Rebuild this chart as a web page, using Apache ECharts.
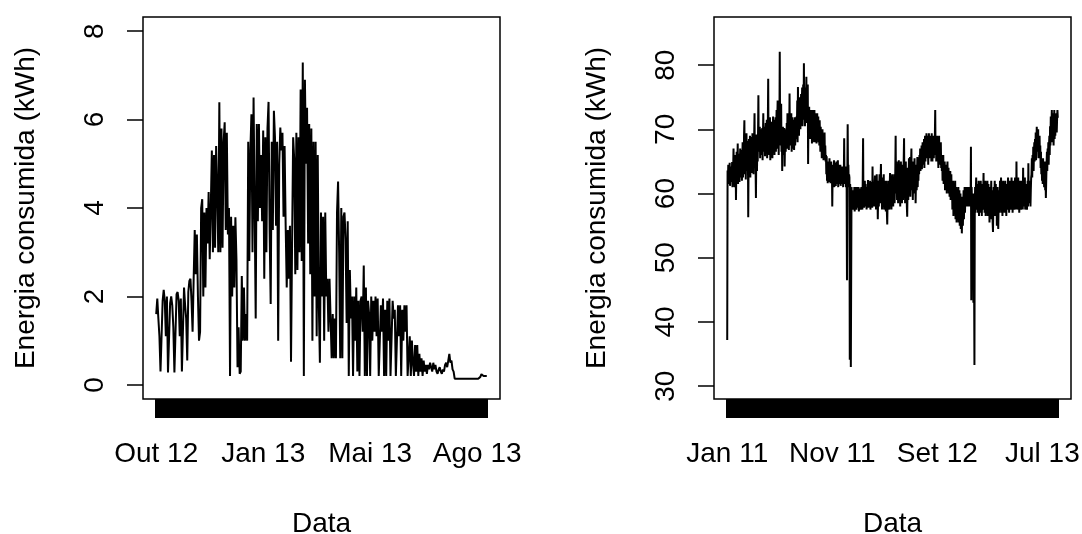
<!DOCTYPE html>
<html><head><meta charset="utf-8">
<script src="https://cdn.jsdelivr.net/npm/echarts@6/dist/echarts.min.js"></script>
<style>html,body{margin:0;padding:0;background:#fff}#c{width:1082px;height:534px}</style>
</head><body><div id="c"></div>
<script>
// ---------- data: left panel (daily, Out 12 .. Ago 13) ----------
const leftValues = [
1.6,1.95,1.5,1.1,0.3,0.28,1.9,
2.15,1.9,1.1,2.0,0.28,0.28,1.85,
2.0,1.8,1.3,0.28,0.28,2.05,2.1,
1.9,1.1,1.95,0.3,0.28,2.2,1.8,
1.5,0.55,2.1,2.35,2.4,1.9,1.2,
2.4,3.5,2.5,3.4,2.0,1.0,1.2,
4.0,4.2,2.0,3.9,2.2,4.0,3.2,
4.36,2.84,4.0,5.3,3.0,5.2,3.1,
5.4,4.4,3.0,6.39,3.0,5.8,3.1,
5.5,5.94,3.5,5.7,3.4,4.0,0.2,
3.8,2.0,3.6,2.2,3.79,2.84,0.4,1.3,0.25,0.3,2.46,1.0,2.2,1.0,1.6,1.0,
5.5,2.8,5.3,6.12,3.0,6.5,4.0,
1.5,5.9,3.7,5.9,4.0,5.2,3.7,
5.75,2.4,5.6,3.0,5.8,6.4,3.5,
1.83,5.5,3.5,6.2,5.6,3.6,5.5,
1.0,5.0,5.82,5.3,5.7,3.8,5.4,
3.6,2.2,3.5,2.4,3.6,0.52,3.2,
5.6,5.1,2.5,5.7,2.6,5.6,3.0,
6.68,2.8,7.29,0.2,6.9,5.0,6.27,
3.2,5.9,2.5,5.8,1.0,5.5,2.0,
5.5,1.1,5.2,1.8,0.5,3.9,2.0,
3.8,1.0,3.9,2.0,2.4,1.2,2.4,
1.5,0.6,1.6,0.6,1.5,0.6,3.9,
4.6,3.0,0.6,4.0,0.6,3.8,3.9,
3.3,1.4,3.7,0.2,2.6,1.5,2.0,
0.2,2.0,1.0,2.2,0.3,1.9,0.2,
1.9,2.0,1.2,2.7,0.2,2.2,0.2,
1.9,1.6,0.2,2.0,1.0,1.9,1.2,
2.0,1.1,1.95,0.2,0.2,1.8,1.2,
1.95,0.2,1.7,0.2,1.9,1.0,1.95,
0.2,0.2,1.9,1.5,1.7,0.2,0.2,
1.8,1.1,1.8,0.2,1.7,1.0,1.8,
1.2,1.8,0.2,0.2,1.1,0.2,1.0,
0.5,0.2,0.9,0.3,0.9,0.2,0.7,
0.3,0.6,0.2,0.55,0.3,0.45,0.25,
0.45,0.35,0.5,0.4,0.3,0.5,0.35,
0.45,0.3,0.25,0.35,0.4,0.3,0.25,
0.35,0.3,0.45,0.5,0.4,0.55,0.7,
0.5,0.55,0.35,0.3,0.14,0.14,0.14,
0.14,0.14,0.14,0.14,0.14,0.14,0.14,0.14,0.14,0.14,0.14,0.14,0.14,0.14,
0.14,0.14,0.14,0.14,0.14,0.14,0.14,0.18,0.24,0.22,0.2,0.19,0.2,0.2
];
const leftTickIdx = [0, 100, 200, 300];
const leftTickLabels = ['Out 12', 'Jan 13', 'Mai 13', 'Ago 13'];
const leftYTicks = [0, 2, 4, 6, 8];

// ---------- data: right panel (daily, Jan 11 .. Jul 13) ----------
const rightValues = [
37.2,63.6,62.0,64.5,61.5,63.8,62.2,64.8,61.2,63.0,64.2,61.8,63.5,62.5,64.9,61.0,63.2,64.0,67.0,62.3,
64.5,61.0,66.0,62.8,65.2,59.0,63.5,66.5,62.0,64.8,67.8,61.5,65.0,63.0,66.2,61.8,64.0,67.0,62.5,65.5,
63.2,66.8,62.0,65.0,68.0,62.5,66.0,64.0,69.0,71.4,63.0,66.5,68.5,62.2,65.8,69.4,63.5,67.0,64.0,68.2,
56.3,65.0,68.5,63.0,67.2,69.0,62.5,66.5,68.8,64.0,67.5,63.2,69.4,65.5,68.0,63.0,66.8,69.0,72.5,64.5,
67.8,64.0,59.3,66.0,69.2,63.5,68.0,65.0,69.4,75.3,66.5,69.0,67.0,70.4,65.5,68.5,70.0,66.0,69.5,67.2,
70.2,65.2,68.8,72.5,66.5,69.8,67.5,70.4,65.8,69.0,71.0,66.2,69.5,71.5,65.5,68.5,70.8,77.9,67.0,70.5,
66.0,69.0,71.9,65.2,68.0,70.5,66.8,71.2,68.5,65.5,70.0,72.0,67.0,69.5,71.5,66.0,70.8,68.2,71.9,66.5,
70.0,73.0,67.0,71.5,74.5,68.0,72.0,66.0,73.5,69.5,82.1,70.0,72.5,67.5,74.0,66.5,70.0,63.5,68.5,70.4,
66.0,69.5,67.5,70.2,64.2,68.0,70.0,66.5,69.8,67.0,71.0,68.0,72.5,67.0,70.5,72.0,66.8,69.5,75.6,68.0,
71.5,67.5,70.0,72.5,66.5,69.8,71.9,67.0,70.5,68.0,71.5,66.8,70.0,71.9,67.5,69.0,71.0,68.5,72.0,70.0,
74.5,68.0,76.6,70.5,73.5,69.0,74.0,71.0,75.0,70.0,73.0,75.5,71.0,74.0,76.5,70.5,73.5,77.0,71.5,80.3,
72.0,75.0,70.5,76.5,72.5,74.0,78.2,71.0,75.5,73.0,77.0,64.6,72.0,70.0,73.5,69.0,72.0,68.5,71.5,73.0,
69.0,72.5,67.8,71.0,73.0,68.5,70.5,72.0,68.0,73.0,69.5,71.5,68.0,72.5,70.0,67.8,71.0,72.5,68.5,70.0,
72.0,68.0,70.5,67.5,71.4,69.0,66.5,70.4,67.0,69.5,65.5,68.5,70.0,66.0,69.0,65.2,68.0,66.5,69.5,65.5,
67.5,65.0,66.0,63.0,65.8,62.0,64.5,61.6,65.0,62.5,64.0,61.8,65.5,62.0,64.2,61.6,63.5,65.0,62.0,64.0,
58.0,63.0,61.5,64.5,62.0,65.2,61.0,63.8,62.5,64.8,61.2,63.0,65.0,61.5,64.0,62.2,65.2,61.0,63.5,64.5,
61.5,63.8,62.0,64.5,61.2,63.0,64.2,61.5,63.5,62.0,64.2,61.0,63.5,62.5,68.6,61.5,63.8,62.0,64.2,61.0,
63.5,62.0,46.5,63.0,70.8,62.0,64.5,61.0,63.0,62.5,34.1,61.5,60.0,33.0,32.8,61.0,58.5,60.5,57.5,60.0,
57.5,60.5,58.0,61.0,57.2,59.5,61.0,58.0,60.2,57.5,59.8,61.0,57.8,60.0,58.5,61.0,57.2,59.5,60.8,58.0,
60.5,57.5,59.8,61.0,58.2,60.0,57.5,62.0,68.6,58.5,61.0,57.8,60.5,62.0,58.0,61.5,59.0,60.8,57.5,61.0,
58.5,60.2,62.1,57.8,60.5,58.0,61.5,59.0,62.0,57.5,60.0,61.8,58.2,60.5,57.8,64.2,59.5,61.0,58.0,60.8,
58.5,61.5,62.8,58.0,60.5,57.5,61.0,63.0,59.0,60.5,56.0,59.5,62.0,58.0,61.0,63.0,58.5,60.5,62.0,64.6,
59.0,61.5,57.5,60.5,62.5,58.0,61.0,63.0,57.5,60.0,62.0,58.5,61.0,57.2,59.5,62.0,57.0,55.2,59.0,61.5,
58.0,62.0,59.5,57.5,61.0,63.2,58.5,60.0,62.5,57.5,60.5,63.0,59.0,61.5,58.0,62.0,60.0,63.0,58.5,61.0,
63.5,69.0,60.0,62.5,65.0,59.0,61.5,64.5,58.5,62.0,65.2,59.5,61.0,64.0,58.0,62.5,65.0,60.0,63.5,58.5,
62.0,64.5,59.0,63.0,65.2,68.6,60.5,63.5,58.5,62.0,65.0,59.5,62.5,58.0,56.4,61.0,64.0,59.0,62.5,65.5,
60.0,63.0,65.7,59.5,62.0,64.5,67.0,60.5,63.5,65.0,59.0,62.5,64.8,60.0,63.0,65.5,61.0,63.5,58.5,62.0,
64.5,60.5,63.0,65.7,61.0,64.0,62.0,65.0,63.0,66.0,64.0,67.0,63.5,66.5,64.5,67.5,63.8,66.0,68.0,64.5,
67.0,65.0,68.5,64.0,67.5,69.0,65.0,68.0,66.0,69.4,65.5,68.0,66.5,69.0,64.5,67.5,69.4,65.5,68.5,66.0,
69.0,66.5,68.0,65.0,69.4,67.0,65.0,68.5,66.0,69.0,65.5,68.0,66.5,69.0,73.0,66.0,68.5,65.0,67.5,69.0,
65.5,68.0,66.5,64.0,67.5,69.0,65.0,67.0,64.5,66.5,68.0,64.0,66.0,63.5,65.5,62.0,64.5,66.0,61.5,64.0,
62.0,65.0,60.5,63.5,61.0,64.5,62.0,60.0,63.5,65.0,60.5,62.5,64.0,60.0,62.8,59.5,62.0,63.5,59.0,61.5,
63.0,59.5,61.5,57.5,60.0,62.0,56.5,59.5,61.5,57.0,60.0,62.0,56.0,58.5,61.0,55.5,58.0,60.5,56.0,59.0,
61.0,55.5,58.0,60.5,55.0,57.5,60.0,54.5,57.0,59.5,53.8,56.5,59.0,55.0,58.0,60.5,56.0,59.0,61.0,57.0,
59.5,61.0,58.0,60.5,58.5,61.0,58.0,60.0,61.0,58.5,60.5,58.0,61.0,59.0,60.5,58.0,67.3,43.4,61.0,58.5,
60.0,45.0,58.5,43.0,60.0,47.0,33.3,58.0,61.0,57.0,60.5,62.5,57.5,60.0,58.5,61.5,57.0,59.5,62.0,56.5,
59.5,61.5,57.0,60.0,62.0,58.0,60.5,56.5,59.0,61.5,57.5,60.0,63.2,58.0,60.5,57.0,59.5,62.0,56.5,59.0,
61.5,57.0,60.0,62.0,56.5,59.5,61.5,57.5,60.0,55.5,58.5,61.0,57.0,59.5,62.0,56.0,58.5,60.5,55.5,54.0,
58.0,61.0,57.0,59.5,62.0,56.5,59.0,61.5,57.0,60.0,55.0,58.5,61.0,56.5,54.5,58.0,60.5,57.0,59.5,62.0,
57.5,60.0,62.5,57.0,59.5,61.5,56.5,59.0,62.0,57.5,60.0,61.5,57.0,59.5,62.0,58.0,60.5,56.5,59.0,61.5,
57.5,60.0,62.5,58.0,60.0,57.0,59.5,62.0,58.0,60.5,57.5,60.0,62.5,58.5,61.0,57.0,59.5,62.0,58.0,60.5,
57.5,60.0,62.5,58.5,61.0,57.5,65.0,59.0,61.5,57.5,60.0,62.5,58.0,60.5,57.0,59.5,62.0,58.5,61.0,57.5,
60.0,62.0,58.0,60.5,57.5,64.0,59.0,61.5,58.0,60.5,62.5,57.5,60.0,61.5,58.5,61.0,57.5,59.5,62.0,58.0,
64.7,59.0,61.5,58.5,60.5,62.0,58.0,60.5,62.5,63.0,65.5,62.5,66.0,64.0,67.3,63.5,66.5,68.0,65.0,68.5,
66.0,69.5,65.2,68.0,70.4,66.5,69.0,67.0,70.0,65.5,68.5,66.0,69.0,65.5,67.5,64.0,66.5,63.0,65.5,62.0,
64.5,61.5,65.5,62.0,64.0,61.0,63.5,65.0,60.5,62.5,59.3,62.0,64.5,66.5,63.5,67.0,65.0,68.0,64.5,67.5,
69.0,66.0,70.5,67.5,72.0,68.5,71.0,73.0,68.0,71.5,69.0,72.5,67.5,70.5,73.0,68.5,71.0,69.0,72.0,70.0,
72.5,69.5,71.5,73.0,71.8
];
const rightTickIdx = [0, 300, 600, 900];
const rightTickLabels = ['Jan 11', 'Nov 11', 'Set 12', 'Jul 13'];
const rightYTicks = [30, 40, 50, 60, 70, 80];

const yTitle = 'Energia consumida (kWh)';
const xTitle = 'Data';

// ---------- layout ----------
const FONT = '"Liberation Sans", Arial, sans-serif';
const FS = 28;
const TOP = 17, H = 382, W = 357;
const EXT = 0.04; // R-style 4% axis extension
const panels = [
  {left: 143, values: leftValues, ticks: leftTickIdx, labels: leftTickLabels, yTicks: leftYTicks, ymin: -0.32, ymax: 8.32},
  {left: 714, values: rightValues, ticks: rightTickIdx, labels: rightTickLabels, yTicks: rightYTicks, ymin: 28, ymax: 87.5}
];
const txt = {fontFamily: FONT, fontSize: FS, color: '#000'};
const grid = [], xAxis = [], yAxis = [], series = [];
panels.forEach((p, k) => {
  const gBox = grid.length;
  grid.push({left: p.left, top: TOP, width: W, height: H, show: true, borderColor: '#000', borderWidth: 1.5,
             backgroundColor: 'transparent', containLabel: false, outerBoundsMode: 'none'});
  const gData = grid.length;
  grid.push({left: p.left + W * EXT / (1 + 2 * EXT), top: TOP, width: W / (1 + 2 * EXT), height: H,
             containLabel: false, outerBoundsMode: 'none'});
  xAxis.push({gridIndex: gBox, type: 'value', show: false, min: 0, max: 1});
  xAxis.push({
    gridIndex: gData, type: 'category', boundaryGap: false, position: 'bottom',
    data: p.values.map((_, i) => String(i)),
    axisLine: {show: false, onZero: false},
    axisTick: {show: true, interval: 0, length: 19, lineStyle: {color: '#000', width: 2}},
    axisLabel: Object.assign({
      interval: (i) => p.ticks.indexOf(i) >= 0,
      formatter: (v, i) => p.labels[p.ticks.indexOf(i)] || '',
      margin: 41
    }, txt),
    splitLine: {show: false},
    name: xTitle, nameLocation: 'middle', nameGap: 111, nameTextStyle: txt
  });
  yAxis.push({
    gridIndex: gBox, type: 'value', min: p.ymin, max: p.ymax,
    axisLine: {show: false}, splitLine: {show: false},
    axisTick: {show: true, length: 16, customValues: p.yTicks, lineStyle: {color: '#000', width: 1.5}},
    axisLabel: Object.assign({customValues: p.yTicks, rotate: 90, margin: 34}, txt),
    name: yTitle, nameLocation: 'middle', nameRotate: 90, nameGap: 103, nameTextStyle: txt
  });
  yAxis.push({gridIndex: gData, type: 'value', min: p.ymin, max: p.ymax, show: false});
  series.push({
    type: 'line', xAxisIndex: xAxis.length - 1, yAxisIndex: yAxis.length - 1,
    data: p.values, showSymbol: false, symbol: 'none',
    lineStyle: {color: '#000', width: 2}, silent: true
  });
});

const chart = echarts.init(document.getElementById('c'), null, {renderer: 'canvas'});
chart.setOption({animation: false, backgroundColor: '#fff', grid, xAxis, yAxis, series});
</script>
</body></html>
